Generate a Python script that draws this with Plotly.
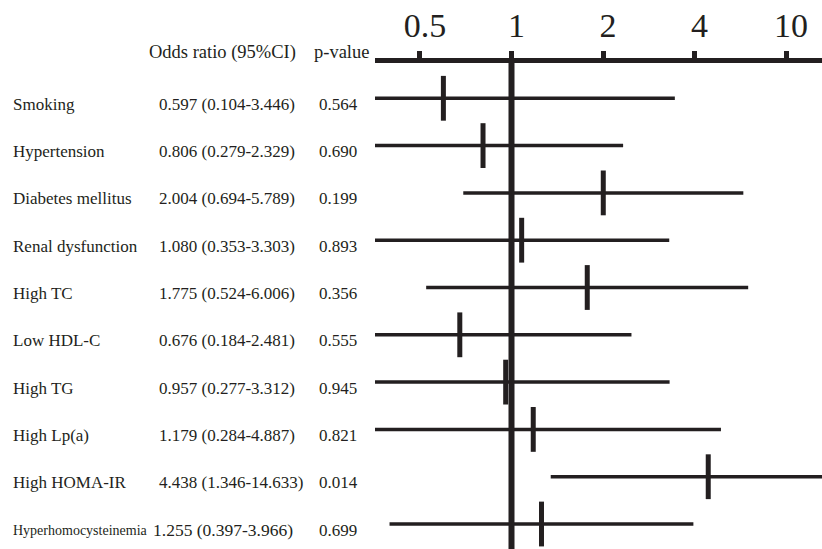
import plotly.graph_objects as go

# ---- data ----
variables = ["Smoking", "Hypertension", "Diabetes mellitus", "Renal dysfunction",
             "High TC", "Low HDL-C", "High TG", "High Lp(a)", "High HOMA-IR",
             "Hyperhomocysteinemia"]
odds_ratio = [0.597, 0.806, 2.004, 1.080, 1.775, 0.676, 0.957, 1.179, 4.438, 1.255]
ci_low = [0.104, 0.279, 0.694, 0.353, 0.524, 0.184, 0.277, 0.284, 1.346, 0.397]
ci_high = [3.446, 2.329, 5.789, 3.303, 6.006, 2.481, 3.312, 4.887, 14.633, 3.966]
p_values = ["0.564", "0.690", "0.199", "0.893", "0.356", "0.555", "0.945", "0.821", "0.014", "0.699"]
# axis ticks as drawn in the reference (evenly spaced, last one labelled "10")
tick_vals = [0.5, 1, 2, 4, 8]
tick_text = ["0.5", "1", "2", "4", "10"]

W, H = 822, 549
FONT = "Liberation Serif"
INK = "#231f20"
rows = list(range(len(variables)))

fig = go.Figure()

# CI lines
xs, ys = [], []
for i, (lo, hi) in enumerate(zip(ci_low, ci_high)):
    xs += [lo, hi, None]
    ys += [i, i, None]
fig.add_trace(go.Scatter(x=xs, y=ys, mode="lines",
                         line=dict(color=INK, width=3.5),
                         hoverinfo="skip", showlegend=False))

# point estimates
fig.add_trace(go.Scatter(x=odds_ratio, y=rows, mode="markers",
                         marker=dict(symbol="line-ns", size=32,
                                     line=dict(color=INK, width=5)),
                         showlegend=False))

# reference line at OR = 1
fig.add_shape(type="line", xref="x", yref="paper", x0=1, x1=1, y0=0, y1=1,
              line=dict(color=INK, width=6))

# table text
def px_x(p):
    return p / W

for i in rows:
    long_name = len(variables[i]) > 18
    name_size = 14 if long_name else 17
    fig.add_annotation(x=px_x(11), y=i, xref="paper", yref="y", text=variables[i],
                       showarrow=False, xanchor="left", yanchor="middle", yshift=-6,
                       font=dict(family=FONT, size=name_size, color=INK))
    fig.add_annotation(x=px_x(151 if long_name else 157), y=i, xref="paper", yref="y",
                       text=f"{odds_ratio[i]:.3f} ({ci_low[i]:.3f}-{ci_high[i]:.3f})",
                       showarrow=False, xanchor="left", yanchor="middle", yshift=-6,
                       font=dict(family=FONT, size=17.5 if long_name else 17, color=INK))
    fig.add_annotation(x=px_x(317), y=i, xref="paper", yref="y", text=p_values[i],
                       showarrow=False, xanchor="left", yanchor="middle", yshift=-6,
                       font=dict(family=FONT, size=17, color=INK))

top, bottom = 63, 549
def px_y(p):
    return 1 + (top - p) / (bottom - top)

fig.add_annotation(x=px_x(147), y=px_y(52), xref="paper", yref="paper",
                   text="Odds ratio (95%CI)", showarrow=False, xanchor="left",
                   yanchor="middle", font=dict(family=FONT, size=18.5, color=INK))
fig.add_annotation(x=px_x(312), y=px_y(52), xref="paper", yref="paper",
                   text="p-value", showarrow=False, xanchor="left",
                   yanchor="middle", font=dict(family=FONT, size=18.5, color=INK))

fig.update_layout(
    width=W, height=H,
    margin=dict(l=0, r=0, t=top, b=H - bottom, pad=0),
    paper_bgcolor="white", plot_bgcolor="white",
    xaxis=dict(type="log", side="top", domain=[375 / W, 1],
               range=[-0.449, 1.0214],
               tickvals=tick_vals, ticktext=tick_text,
               showline=True, linewidth=5, linecolor=INK,
               ticks="outside", ticklen=7, tickwidth=5, tickcolor=INK,
               ticklabelshift=5,
               tickfont=dict(family=FONT, size=34, color=INK),
               showgrid=False, zeroline=False, fixedrange=True),
    yaxis=dict(range=[9.528, -0.746], visible=False, showgrid=False,
               zeroline=False, fixedrange=True),
)

fig.write_html("out.html", config={"displayModeBar": False},
               post_script="document.body.style.margin='0';document.body.style.overflow='hidden';")
